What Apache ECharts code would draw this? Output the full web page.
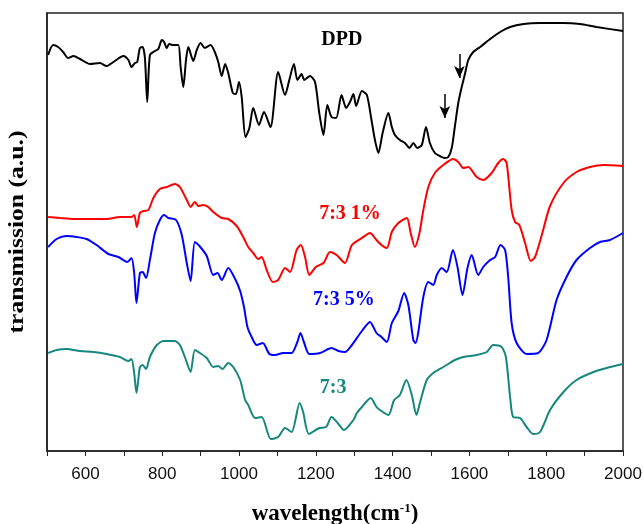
<!DOCTYPE html>
<html>
<head>
<meta charset="utf-8">
<script src="https://cdn.jsdelivr.net/npm/echarts@6/dist/echarts.min.js"></script>
<style>
  html, body { margin: 0; padding: 0; background: #fff; }
  #ftir { width: 644px; height: 524px; }
</style>
</head>
<body>
<div id="ftir"></div>
<script>
// spectra: [wavenumber, transmission (a.u.)]
var dpd = [[503,396],[516,406],[529,404],[542,399],[555,393],[569,395],[586,392],[612,387],[638,388],[655,385],[673,389],[699,395],[712,391],[720,384],[729,388],[735,389],[742,403],[749,404],[755,393],[761,349],[768,396],[781,400],[790,402],[799,411],[805,409],[812,403],[818,407],[829,406],[842,406],[848,384],[855,364],[862,391],[868,404],[881,390],[890,401],[900,408],[911,403],[926,406],[937,399],[946,389],[955,375],[964,387],[972,378],[984,358],[992,357],[1000,369],[1007,354],[1017,314],[1027,323],[1037,343],[1052,326],[1065,339],[1082,324],[1102,379],[1120,356],[1131,371],[1143,387],[1152,371],[1163,377],[1170,371],[1185,375],[1198,369],[1209,338],[1220,316],[1230,346],[1241,334],[1253,333],[1267,356],[1279,343],[1289,349],[1298,357],[1305,345],[1320,360],[1333,356],[1345,331],[1354,311],[1363,298],[1374,318],[1389,338],[1398,324],[1406,316],[1419,311],[1432,308],[1444,303],[1454,308],[1464,303],[1476,306],[1487,324],[1497,308],[1510,298],[1523,295],[1536,293],[1545,294],[1554,303],[1562,324],[1571,348],[1580,364],[1589,378],[1597,391],[1610,399],[1628,404],[1654,412],[1680,419],[1706,424],[1741,427],[1784,428],[1845,428],[1888,427],[1931,424],[2000,420]];

var pct1 = [[503,234],[534,233],[569,232],[621,232],[655,232],[690,234],[720,234],[727,236],[734,224],[742,238],[751,240],[764,241],[777,253],[794,262],[812,264],[833,267],[846,264],[864,251],[874,244],[885,249],[894,245],[907,246],[920,244],[933,239],[955,233],[972,232],[994,225],[1011,214],[1024,204],[1037,198],[1050,192],[1059,194],[1072,181],[1088,169],[1102,171],[1120,183],[1133,179],[1150,201],[1161,206],[1172,194],[1183,176],[1200,184],[1220,188],[1237,199],[1254,196],[1276,188],[1294,206],[1320,213],[1341,218],[1358,211],[1371,206],[1385,203],[1398,219],[1415,228],[1437,233],[1447,218],[1458,204],[1470,218],[1480,241],[1493,264],[1510,278],[1532,286],[1558,292],[1571,289],[1584,283],[1597,284],[1619,274],[1636,271],[1658,278],[1675,288],[1688,292],[1697,288],[1710,241],[1719,229],[1730,226],[1745,208],[1760,190],[1771,194],[1790,218],[1810,245],[1845,268],[1879,279],[1914,284],[1949,286],[2000,285]];

var pct5 = [[503,204],[525,212],[551,215],[577,214],[603,212],[629,206],[660,197],[686,194],[709,189],[720,193],[727,178],[733,148],[742,178],[749,179],[758,173],[768,191],[781,218],[794,231],[805,236],[816,233],[836,231],[851,216],[864,188],[874,170],[885,209],[897,205],[916,195],[933,176],[944,178],[955,171],[972,183],[990,172],[1003,160],[1013,144],[1022,124],[1033,114],[1046,106],[1062,108],[1079,97],[1094,96],[1115,98],[1137,98],[1152,109],[1160,118],[1169,109],[1183,97],[1211,98],[1241,103],[1259,100],[1276,99],[1294,106],[1320,120],[1341,129],[1358,118],[1371,114],[1385,109],[1398,128],[1415,140],[1430,158],[1441,146],[1454,111],[1460,108],[1467,119],[1480,154],[1493,169],[1506,166],[1515,176],[1528,183],[1541,179],[1557,201],[1569,184],[1582,156],[1595,183],[1606,196],[1623,176],[1636,184],[1654,191],[1667,194],[1681,206],[1693,201],[1701,174],[1710,128],[1723,108],[1749,97],[1779,98],[1801,111],[1827,151],[1853,174],[1879,191],[1914,203],[1940,209],[1966,211],[2000,218]];

var blend = [[503,98],[525,101],[551,102],[586,100],[621,99],[655,97],[690,94],[712,90],[720,92],[727,78],[733,58],[742,84],[749,86],[758,82],[768,94],[786,106],[803,110],[833,110],[846,106],[859,94],[874,79],[885,101],[898,98],[916,93],[933,84],[946,85],[957,82],[972,88],[985,84],[1003,71],[1016,51],[1024,46],[1042,33],[1059,34],[1083,12],[1102,14],[1120,23],[1137,19],[1158,48],[1167,39],[1182,17],[1209,23],[1227,24],[1241,34],[1259,27],[1273,21],[1298,31],[1307,38],[1320,44],[1343,53],[1358,44],[1367,41],[1389,36],[1404,51],[1419,56],[1436,71],[1450,56],[1462,36],[1471,48],[1489,71],[1506,78],[1532,84],[1549,88],[1562,91],[1584,94],[1619,96],[1645,99],[1662,106],[1684,104],[1695,94],[1706,54],[1714,34],[1732,33],[1749,24],[1766,17],[1784,19],[1810,41],[1845,59],[1879,71],[1923,79],[1957,83],[2000,87]];

var seriesNames = ['DPD', '7:3 1%', '7:3 5%', '7:3'];
var seriesColors = ['#000000', '#ff0000', '#0000ff', '#16877e'];
var labelSpots = [[1268,411],[1289,237],[1273,151],[1245,63]];
var arrows = [[1536,357,333],[1574,397,373]];

var serif = '"Liberation Serif", "Times New Roman", serif';

function spectrum(i, data) {
  var s = {
    name: seriesNames[i],
    type: 'line',
    data: data,
    showSymbol: false,
    smooth: 0.25,
    lineStyle: { color: seriesColors[i], width: 2 },
    markPoint: {
      symbol: 'circle',
      symbolSize: 0,
      data: [{ coord: labelSpots[i], value: seriesNames[i] }],
      label: {
        show: true,
        formatter: seriesNames[i],
        color: seriesColors[i],
        fontFamily: serif,
        fontWeight: 'bold',
        fontSize: 20
      }
    }
  };
  if (i === 0) {
    s.markLine = {
      silent: true,
      symbol: ['none', 'arrow'],
      symbolSize: [8, 12],
      label: { show: false },
      lineStyle: { color: '#000', width: 1.5, type: 'solid' },
      data: arrows.map(function (a) {
        return [{ coord: [a[0], a[1]] }, { coord: [a[0], a[2]] }];
      })
    };
  }
  return s;
}

echarts.init(document.querySelector('#ftir')).setOption({
  animation: false,
  grid: {
    left: 47, right: 21, top: 13, bottom: 73,
    outerBoundsMode: 'none',
    containLabel: false,
    show: true, borderColor: '#222', borderWidth: 1.5
  },
  // y title drawn as graphic text so it can be stretched like the original
  graphic: [{
    type: 'text',
    x: 18, y: 232,
    rotation: Math.PI / 2,
    scaleX: 1.22,
    style: {
      text: 'transmission (a.u.)',
      font: 'bold 21px ' + serif,
      fill: '#000',
      align: 'center',
      verticalAlign: 'middle'
    }
  }],
  xAxis: {
    type: 'value',
    min: 500, max: 2000, interval: 100,
    name: 'wavelength(cm{sup|-1})',
    nameLocation: 'middle',
    nameGap: 51,
    nameTextStyle: {
      fontFamily: serif, fontWeight: 'bold', fontSize: 23, color: '#000',
      rich: { sup: { fontFamily: serif, fontWeight: 'bold', fontSize: 13, verticalAlign: 'top', padding: [0, 0, 12, 0] } }
    },
    axisLine: { lineStyle: { color: '#222', width: 1.5 } },
    axisTick: { length: 5, lineStyle: { color: '#222' } },
    splitLine: { show: false },
    axisLabel: {
      margin: 15,
      fontFamily: '"Liberation Sans", Arial, sans-serif',
      fontSize: 17,
      color: '#111',
      formatter: function (v) { return v % 200 === 0 ? String(v) : ''; }
    }
  },
  yAxis: {
    type: 'value',
    min: 0, max: 438,
    axisLine: { show: true, lineStyle: { color: '#222', width: 1.5 } },
    axisTick: { show: false },
    axisLabel: { show: false },
    splitLine: { show: false }
  },
  series: [dpd, pct1, pct5, blend].map(function (d, i) { return spectrum(i, d); })
});
</script>
</body>
</html>
